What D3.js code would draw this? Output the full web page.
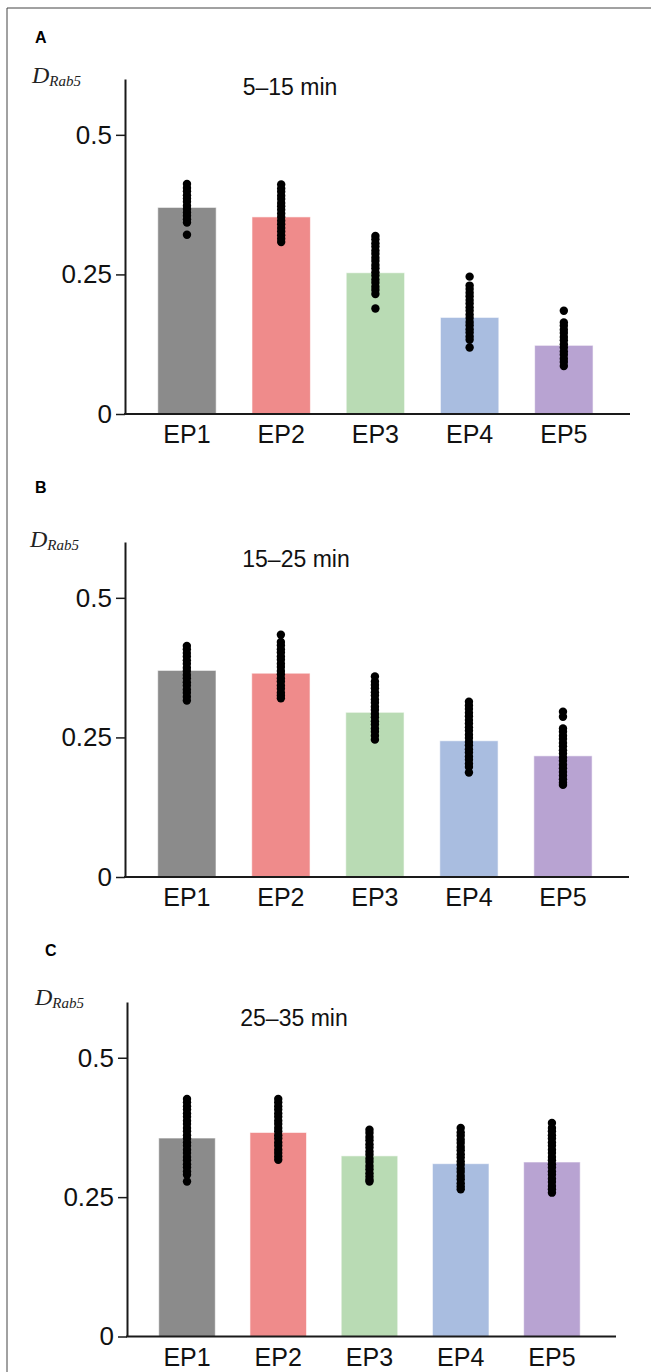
<!DOCTYPE html>
<html>
<head>
<meta charset="utf-8">
<script src="https://cdn.jsdelivr.net/npm/d3@7"></script>
<style>
  body { margin: 0; background: #fff; }
  svg { display: block; }
  .tick text { font-family: "Liberation Sans", Arial, sans-serif; font-size: 26px; fill: #111; }
  .xlab { font-family: "Liberation Sans", Arial, sans-serif; font-size: 25px; fill: #111; }
  .title { font-family: "Liberation Sans", Arial, sans-serif; font-size: 23px; fill: #111; }
  .letter { font-family: "Liberation Sans", Arial, sans-serif; font-size: 16px; font-weight: bold; fill: #000; }
  .ylab { font-family: "Liberation Serif", "Times New Roman", serif; font-style: italic; fill: #222; }
</style>
</head>
<body>
<svg width="651" height="1372"></svg>
<script>
const episodes = ['EP1', 'EP2', 'EP3', 'EP4', 'EP5'];
const colors = ['#8b8b8b', '#ef8b8b', '#b9dbb4', '#a9bde0', '#b8a3d2'];
const titles = ['5–15 min', '15–25 min', '25–35 min'];
const letters = ['A', 'B', 'C'];
const yTicks = [0, 0.25, 0.5];

// bar heights (means) per panel
const meansA = [0.370, 0.353, 0.253, 0.173, 0.123];
const meansB = [0.370, 0.365, 0.295, 0.244, 0.217];
const meansC = [0.356, 0.366, 0.324, 0.310, 0.313];

// individual values (black dots)
const dotsA = [
    [0.412, 0.405, 0.399, 0.392, 0.386, 0.380, 0.373, 0.367, 0.361, 0.355, 0.349, 0.343, 0.321],
    [0.411, 0.404, 0.398, 0.391, 0.385, 0.378, 0.372, 0.366, 0.359, 0.353, 0.346, 0.340, 0.333, 0.327, 0.320, 0.314, 0.308],
    [0.319, 0.313, 0.306, 0.300, 0.293, 0.287, 0.280, 0.274, 0.267, 0.261, 0.254, 0.248, 0.241, 0.235, 0.228, 0.222, 0.215, 0.189],
    [0.246, 0.230, 0.224, 0.217, 0.211, 0.204, 0.198, 0.191, 0.185, 0.178, 0.172, 0.165, 0.159, 0.152, 0.146, 0.139, 0.133, 0.119],
    [0.185, 0.164, 0.158, 0.151, 0.145, 0.138, 0.132, 0.125, 0.119, 0.112, 0.106, 0.099, 0.093, 0.086],
];
const dotsB = [
    [0.414, 0.408, 0.401, 0.395, 0.388, 0.382, 0.375, 0.369, 0.362, 0.356, 0.349, 0.343, 0.336, 0.330, 0.323, 0.316],
    [0.434, 0.421, 0.415, 0.408, 0.402, 0.395, 0.389, 0.382, 0.376, 0.369, 0.363, 0.356, 0.350, 0.343, 0.337, 0.330, 0.325, 0.320],
    [0.359, 0.350, 0.344, 0.338, 0.331, 0.325, 0.318, 0.312, 0.305, 0.299, 0.292, 0.286, 0.279, 0.273, 0.266, 0.260, 0.253, 0.246],
    [0.314, 0.307, 0.301, 0.294, 0.288, 0.281, 0.275, 0.268, 0.262, 0.255, 0.249, 0.242, 0.236, 0.229, 0.223, 0.216, 0.210, 0.203, 0.197, 0.187],
    [0.296, 0.287, 0.266, 0.260, 0.253, 0.247, 0.240, 0.234, 0.227, 0.221, 0.214, 0.208, 0.201, 0.195, 0.188, 0.182, 0.175, 0.169, 0.165],
];
const dotsC = [
    [0.426, 0.420, 0.413, 0.407, 0.400, 0.394, 0.387, 0.381, 0.374, 0.368, 0.361, 0.355, 0.348, 0.342, 0.335, 0.329, 0.322, 0.316, 0.309, 0.303, 0.296, 0.290, 0.278],
    [0.426, 0.420, 0.413, 0.407, 0.400, 0.394, 0.387, 0.381, 0.374, 0.368, 0.361, 0.355, 0.348, 0.342, 0.335, 0.329, 0.323, 0.317],
    [0.371, 0.365, 0.358, 0.352, 0.345, 0.339, 0.332, 0.326, 0.319, 0.313, 0.306, 0.300, 0.293, 0.287, 0.281, 0.278],
    [0.374, 0.366, 0.360, 0.353, 0.347, 0.340, 0.334, 0.327, 0.321, 0.314, 0.308, 0.301, 0.295, 0.288, 0.282, 0.275, 0.269, 0.264],
    [0.383, 0.374, 0.368, 0.361, 0.355, 0.348, 0.342, 0.335, 0.329, 0.322, 0.316, 0.309, 0.303, 0.296, 0.290, 0.283, 0.277, 0.270, 0.264, 0.258],
];

const means = [meansA, meansB, meansC];
const dots = [dotsA, dotsB, dotsC];

// panel placement
const panels = [
    { x0: 125, x1: 630, y0: 414, y1: 79, titleX: 290, titleY: 95, letterX: 35, letterY: 43, dX: 32, dY: 83 },
    { x0: 125, x1: 629, y0: 877, y1: 542, titleX: 296, titleY: 567, letterX: 35, letterY: 493, dX: 30, dY: 547 },
    { x0: 127, x1: 616, y0: 1336.5, y1: 1002, titleX: 294, titleY: 1026, letterX: 45, letterY: 956, dX: 35, dY: 1005 },
];

const svg = d3.select('svg');

// figure frame (top and left edges)
svg.append('line')
    .attr('x1', 7).attr('y1', 8).attr('x2', 651).attr('y2', 8)
    .attr('stroke', '#444').attr('stroke-width', 1);
svg.append('line')
    .attr('x1', 7).attr('y1', 8).attr('x2', 7).attr('y2', 1372)
    .attr('stroke', '#444').attr('stroke-width', 1);

panels.forEach((p, k) => {
    const g = svg.append('g');

    const xScale = d3.scaleBand()
        .domain(episodes)
        .range([p.x0, p.x1])
        .paddingInner(0.38)
        .paddingOuter(0.37)
        .align(0.47);

    const yScale = d3.scaleLinear()
        .domain([0, 0.6])
        .range([p.y0, p.y1]);

    // bars
    g.selectAll('rect.bar')
        .data(means[k])
        .enter()
        .append('rect')
        .attr('class', 'bar')
        .attr('x', (d, i) => xScale(episodes[i]))
        .attr('y', (d) => yScale(d))
        .attr('width', xScale.bandwidth())
        .attr('height', (d) => yScale(0) - yScale(d))
        .attr('fill', (d, i) => colors[i])
        .attr('stroke', 'rgba(255,255,255,0.6)')
        .attr('stroke-width', 1);

    // dots
    dots[k].forEach((vals, i) => {
        g.selectAll(null)
            .data(vals)
            .enter()
            .append('circle')
            .attr('cx', xScale(episodes[i]) + xScale.bandwidth() / 2)
            .attr('cy', (d) => yScale(d))
            .attr('r', 4.2)
            .attr('fill', '#000');
    });

    // y axis
    const yAxis = g.append('g')
        .attr('transform', `translate(${p.x0}, 0)`)
        .call(d3.axisLeft(yScale)
            .tickValues(yTicks)
            .tickFormat((d) => String(d))
            .tickSize(9)
            .tickSizeOuter(0)
            .tickPadding(4));
    yAxis.select('.domain').attr('stroke', '#1a1a1a').attr('stroke-width', 2);
    yAxis.selectAll('.tick line').attr('stroke', '#1a1a1a').attr('stroke-width', 1.5);

    // x axis baseline
    g.append('line')
        .attr('x1', p.x0 - 1).attr('x2', p.x1)
        .attr('y1', yScale(0)).attr('y2', yScale(0))
        .attr('stroke', '#1a1a1a').attr('stroke-width', 2);

    g.selectAll('text.xlab')
        .data(episodes)
        .enter()
        .append('text')
        .attr('class', 'xlab')
        .attr('x', (d) => xScale(d) + xScale.bandwidth() / 2)
        .attr('y', yScale(0) + 29)
        .attr('text-anchor', 'middle')
        .text((d) => d);

    g.append('text')
        .attr('class', 'title')
        .attr('x', p.titleX)
        .attr('y', p.titleY)
        .attr('text-anchor', 'middle')
        .text(titles[k]);

    g.append('text')
        .attr('class', 'letter')
        .attr('x', p.letterX)
        .attr('y', p.letterY)
        .text(letters[k]);

    const ylab = g.append('text')
        .attr('class', 'ylab')
        .attr('x', p.dX)
        .attr('y', p.dY);
    ylab.append('tspan').attr('font-size', 24).text('D');
    ylab.append('tspan').attr('font-size', 15).attr('dy', 3).text('Rab5');
});
</script>
</body>
</html>
